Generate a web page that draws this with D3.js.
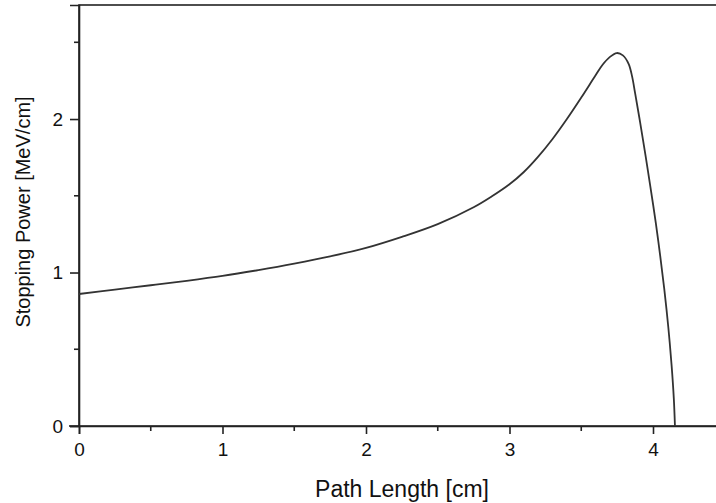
<!DOCTYPE html>
<html><head><meta charset="utf-8">
<script src="https://cdn.jsdelivr.net/npm/d3@7"></script>
<style>
html,body{margin:0;padding:0;background:#fff;overflow:hidden;}
text{font-family:"Liberation Sans",Arial,sans-serif;fill:#111;}
</style></head>
<body>
<svg id="chart" width="716" height="503"></svg>
<script>
const pathLength = [0, 0.25, 0.5, 0.75, 1.0, 1.25, 1.5, 1.75, 2.0, 2.25, 2.5, 2.75, 2.875, 3.0, 3.1, 3.2, 3.3, 3.4, 3.5, 3.6, 3.65, 3.7, 3.747, 3.79, 3.83, 3.855, 3.875, 3.91, 3.95, 3.98, 4.02, 4.05, 4.08, 4.107, 4.13, 4.145, 4.153];
const stoppingPower = [0.86, 0.889, 0.917, 0.946, 0.978, 1.016, 1.058, 1.105, 1.16, 1.232, 1.315, 1.425, 1.495, 1.575, 1.655, 1.755, 1.87, 2.0, 2.14, 2.285, 2.355, 2.405, 2.43, 2.415, 2.36, 2.275, 2.17, 1.98, 1.75, 1.57, 1.32, 1.11, 0.88, 0.64, 0.39, 0.18, 0];
const xTicks = [0, 1, 2, 3, 4];
const yTicks = [0, 1, 2];
const xMinor = [0.5, 1.5, 2.5, 3.5];
const yMinor = [0.5, 1.5, 2.5];
const xTitle = "Path Length [cm]";
const yTitle = "Stopping Power [MeV/cm]";

(function () {
const svg = d3.select("#chart");
const mLeft = 79, mTop = 5, mBottom = 426;
const x = d3.scaleLinear().domain([0, 4.5]).range([mLeft, mLeft + 4.5 * 143.5]);
const y = d3.scaleLinear().domain([0, 2.743]).range([mBottom, mTop]);

const axisColor = "#222";
svg.append("rect").attr("x", mLeft).attr("y", mTop)
  .attr("width", x(4.5) - mLeft + 20).attr("height", mBottom - mTop)
  .attr("fill", "none").attr("stroke", axisColor).attr("stroke-width", 1.6);

const gx = svg.append("g").attr("transform", `translate(0,${mBottom})`)
  .call(d3.axisBottom(x).tickValues(xTicks).tickFormat(d3.format("d")).tickSize(8).tickPadding(9));
gx.append("g").selectAll("line").data(xMinor).join("line")
  .attr("x1", d => x(d)).attr("x2", d => x(d)).attr("y1", 0).attr("y2", 5);
const gy = svg.append("g").attr("transform", `translate(${mLeft},0)`)
  .call(d3.axisLeft(y).tickValues(yTicks).tickFormat(d3.format("d")).tickSize(9).tickPadding(7));
gy.append("g").selectAll("line").data(yMinor).join("line")
  .attr("x1", 0).attr("x2", -5).attr("y1", d => y(d)).attr("y2", d => y(d));

[gx, gy].forEach(g => {
  g.select(".domain").attr("stroke", axisColor).attr("stroke-width", 1.6);
  g.selectAll("line").attr("stroke", axisColor).attr("stroke-width", 1.6);
  g.selectAll("text").attr("font-size", 19).attr("fill", "#111")
    .attr("font-family", "'Liberation Sans', Arial, sans-serif");
});
svg.append("line").attr("x1", mLeft - 10).attr("x2", mLeft).attr("y1", mBottom).attr("y2", mBottom)
  .attr("stroke", axisColor).attr("stroke-width", 1.6);

svg.append("text").attr("x", 402).attr("y", 497).attr("text-anchor", "middle")
  .attr("font-size", 23).text(xTitle);
svg.append("text").attr("transform", "translate(30,212) rotate(-90)")
  .attr("text-anchor", "middle").attr("font-size", 20).text(yTitle);

const data = pathLength.map((d, i) => [d, stoppingPower[i]]);
svg.append("path").datum(data)
  .attr("fill", "none").attr("stroke", "#333").attr("stroke-width", 1.8)
  .attr("d", d3.line().x(d => x(d[0])).y(d => y(d[1])).curve(d3.curveCatmullRom.alpha(0.5)));
})();
</script>
</body></html>
